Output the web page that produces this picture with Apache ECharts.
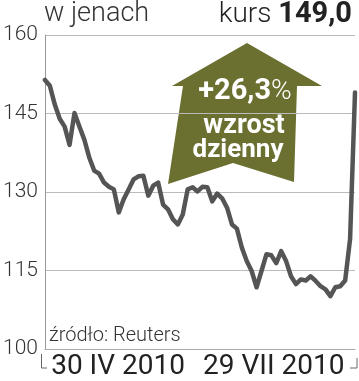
<!DOCTYPE html>
<html><head><meta charset="utf-8">
<script src="https://cdn.jsdelivr.net/npm/echarts@6/dist/echarts.min.js"></script>
<style>html,body{margin:0;padding:0;background:#fff}#c{width:359px;height:381px}</style>
</head><body><div id="c"></div>
<script>
// Daily closing prices (JPY), oldest to newest
const prices = [151.4,150.3,146.7,144.0,142.5,139.0,145.1,142.5,140.0,136.6,
  134.1,133.5,131.8,131.0,130.5,126.1,128.6,130.5,132.4,133.0,
  133.1,129.3,131.2,131.8,127.6,126.7,124.8,123.8,125.7,130.5,
  130.9,130.1,131.0,130.9,128.2,129.7,128.8,127.0,123.8,123.0,
  119.4,116.8,114.9,111.8,114.9,118.1,117.9,116.4,118.7,116.8,
  113.9,112.4,113.3,113.1,113.9,113.0,112.0,111.4,110.1,111.8,
  112.0,113.1,121.0,149.0];
const yTicks = [100,115,130,145,160];
const xLabelPos = [14.85, 46.5];
const xLabels = ['30 IV 2010', '29 VII 2010'];
const lastPrice = '149,0';
const dailyChange = '+26,3';

const chart = echarts.init(document.getElementById('c'), null, {renderer:'canvas'});
const F = 'Roboto, "Noto Sans", sans-serif';
chart.setOption({
  animation:false,
  backgroundColor:'#fff',
  grid:{left:41,right:4,top:35,bottom:31},
  xAxis:{type:'value',min:0,max:prices.length-1,
    axisLine:{show:true,lineStyle:{color:'#aaa',width:1}},
    axisTick:{show:false},splitLine:{show:false},
    axisLabel:{customValues:xLabelPos,
      formatter:(v)=>{const k=xLabelPos.indexOf(v);return k>=0?xLabels[k]:'';},
      fontFamily:F,fontSize:28,color:'#222',margin:4}},
  yAxis:{type:'value',min:yTicks[0],max:yTicks[yTicks.length-1],interval:15,
    axisLine:{show:true,lineStyle:{color:'#999',width:1}},
    axisTick:{show:false},
    splitLine:{show:true,lineStyle:{color:'#bbb',width:1}},
    axisLabel:{fontFamily:F,fontSize:21,fontWeight:300,color:'#333',margin:7}},
  series:[{type:'line',data:prices.map((v,i)=>[i,v]),symbol:'none',
    lineStyle:{color:'#555',width:4.5,join:'round',cap:'round'}}],
  graphic:[
    {type:'text',left:44,top:1,style:{text:'w jenach',font:'300 27px '+F,fill:'#333'}},
    {type:'text',right:7,top:0,style:{
      text:'{k|kurs }{b|'+lastPrice+'}',
      rich:{k:{font:'300 28px '+F,fill:'#222'},b:{font:'bold 29px '+F,fill:'#222'}}}},
    {type:'polygon',shape:{points:[[247,43],[322,86],[297,86],[294,182],[233,163],[168,184],[183,86],[172,86]]},
      style:{fill:'#6b6f2f'}},
    {type:'text',x:245,y:92,style:{text:'{b|'+dailyChange+'}{p|%}',align:'center',verticalAlign:'middle',
      rich:{b:{font:'bold 29px '+F,fill:'#fff'},p:{font:'300 28px '+F,fill:'#fff'}}}},
    {type:'text',x:244,y:126,style:{text:'wzrost',align:'center',verticalAlign:'middle',font:'bold 27px '+F,fill:'#fff'}},
    {type:'text',x:238,y:150,style:{text:'dzienny',align:'center',verticalAlign:'middle',font:'bold 26px '+F,fill:'#fff'}},
    {type:'text',left:49,top:326,style:{text:'źródło: Reuters',font:'300 20px '+F,fill:'#333'}},
    {type:'polyline',shape:{points:[[41.5,354],[41.5,368],[47,368]]},style:{stroke:'#666',lineWidth:1,fill:null}},
    {type:'polyline',shape:{points:[[350,368],[357,368],[357,358]]},style:{stroke:'#666',lineWidth:1,fill:null}}
  ]
});
</script></body></html>
